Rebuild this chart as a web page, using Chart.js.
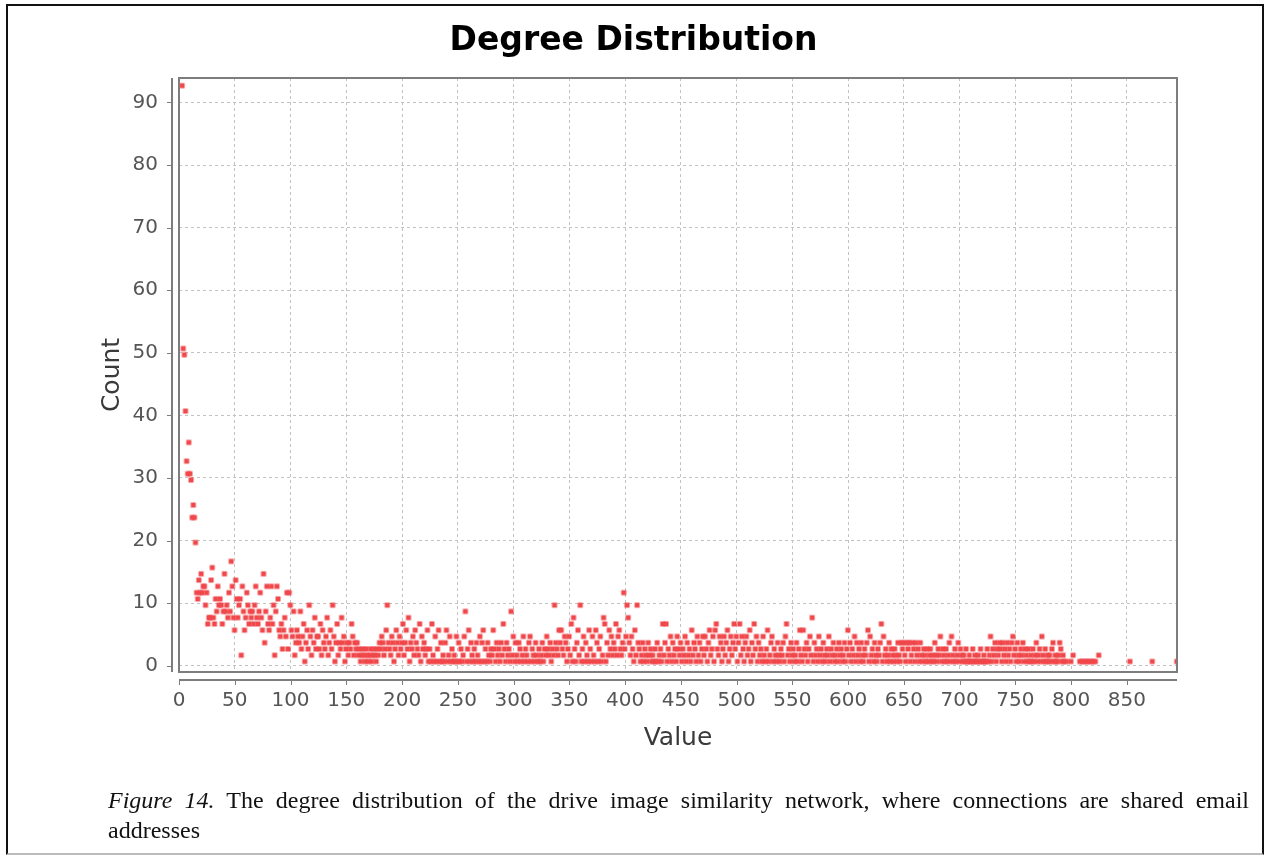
<!DOCTYPE html>
<html>
<head>
<meta charset="utf-8">
<title>Degree Distribution</title>
<script src="https://cdn.jsdelivr.net/npm/chart.js@4.4.1/dist/chart.umd.min.js"></script>
<style>
    html, body { margin: 0; padding: 0; background: #fff; }
    body { width: 1267px; height: 855px; position: relative; overflow: hidden; }
    #frame { position: absolute; left: 6px; top: 4px; width: 1254px; height: 847px; border: 2px solid #111; border-bottom-color: #bbb; }
    #chartDegree { position: absolute; left: 0; top: 0; }
    .caption { position: absolute; left: 108px; width: 1141px; font: 24px "Liberation Serif", "DejaVu Serif", serif; line-height: 30px; color: #111; white-space: nowrap; }
    #cap1 { top: 785px; text-align: justify; text-align-last: justify; }
    #cap2 { top: 815px; }
</style>
</head>
<body>
<div id="frame"></div>
<canvas id="chartDegree" width="1267" height="855"></canvas>
<div class="caption" id="cap1"><i>Figure 14.</i> The degree distribution of the drive image similarity network, where connections are shared email</div>
<div class="caption" id="cap2">addresses</div>
<script>
// count of nodes for each degree, starting at degree 1 (null = no node with that degree)
const firstDegree = 1;
const counts = [
    93, 51, 50, 41, 33, 31, 36, 31, 30, 24,
    26, 24, 20, 12, 11, 14, 12, 15, 12, 13,
    13, 10, 12, 7, 8, 8, 14, 16, 8, 7,
    11, 9, 13, 10, 11, 10, 7, 9, 15, 9,
    10, 8, 12, 9, 17, 13, 8, 6, 14, 11,
    8, 10, 11, 2, 13, 9, 6, 8, 12, 10,
    7, 9, 8, 9, 7, 10, 13, 8, 7, 9,
    12, 8, 6, 15, 4, 9, 13, 7, 6, 8,
    13, 7, 10, 2, 9, 13, 11, 6, 5, 7,
    3, 6, 8, 5, 12, 3, 12, 10, 6, 5,
    9, 2, 4, 6, 5, 4, 9, 3, 5, 7,
    1, 4, 6, 3, 10, 5, 2, 6, 4, 8,
    3, 5, 5, 3, 7, 2, 6, 4, 3, 5,
    8, 2, 4, 6, 3, 10, 5, 1, 4, 7,
    2, 4, 3, 8, 4, 5, 1, 3, 4, 2,
    4, 3, 7, 5, 2, 4, 3, 4, 2, 3,
    1, 2, 3, 2, 1, 3, 2, 1, 2, 3,
    1, 2, 3, 2, 1, 3, 2, 4, 3, 5,
    4, 2, 3, 6, 10, 4, 3, 2, 5, 4,
    1, 3, 6, 4, 2, 5, 3, 4, 7, 2,
    4, 6, 3, 8, 1, 4, 3, 5, 2, 6,
    4, 3, 2, 7, 1, 5, 3, 4, 2, 3,
    6, 1, 3, 1, 7, 2, 1, 5, 1, 3,
    6, 1, 4, 1, 2, 1, 4, 6, 1, 2,
    5, 1, 3, 1, 2, 1, 5, 1, 4, 1,
    3, 1, 2, 5, 9, 1, 3, 6, 1, 4,
    2, 1, 3, 1, 4, 2, 1, 5, 1, 4,
    6, 1, 3, 1, 4, 2, 1, 3, 2, 6,
    3, 1, 4, 2, 3, 1, 4, 2, 7, 3,
    1, 4, 2, 3, 1, 9, 2, 5, 1, 4,
    2, 1, 4, 3, 1, 2, 5, 1, 3, 2,
    1, 4, 5, 1, 3, 2, 1, 4, 2, 1,
    3, 1, 2, 4, 1, 3, 2, 5, 3, 2,
    4, 1, 3, 2, 10, 4, 3, 2, 6, 4,
    6, 3, 2, 5, 4, 1, 3, 5, 2, 7,
    1, 8, 3, 1, 4, 6, 2, 10, 1, 3,
    5, 1, 4, 2, 1, 6, 3, 1, 5, 2,
    1, 6, 4, 1, 3, 5, 1, 2, 8, 7,
    1, 4, 2, 6, 3, 5, 2, 4, 3, 7,
    2, 5, 6, 3, 2, 4, 12, 3, 5, 10,
    8, 4, 2, 5, 3, 1, 6, 2, 10, 4,
    3, 1, 2, 4, 1, 3, 2, 1, 4, 2,
    3, 1, 2, 1, 3, 1, 4, 1, 2, 3,
    1, 7, 2, 4, 7, 1, 3, 2, 5, 1,
    4, 2, 3, 1, 5, 3, 2, 4, 1, 3,
    2, 5, 1, 4, 2, 3, 1, 6, 2, 4,
    3, 1, 5, 2, 4, 1, 3, 5, 2, 5,
    3, 1, 4, 6, 2, 3, 5, 1, 6, 7,
    3, 2, 5, 4, 1, 3, 5, 2, 4, 6,
    1, 3, 5, 2, 4, 7, 3, 5, 1, 4,
    7, 2, 5, 3, 1, 4, 5, 2, 3, 6,
    1, 4, 2, 7, 3, 5, 1, 4, 2, 3,
    1, 5, 2, 1, 3, 6, 1, 2, 4, 5,
    1, 3, 2, 1, 4, 2, 1, 3, 2, 4,
    1, 5, 7, 2, 3, 1, 4, 2, 3, 1,
    2, 4, 1, 3, 6, 2, 1, 6, 3, 2,
    4, 1, 3, 5, 2, 8, 1, 4, 2, 3,
    1, 5, 2, 3, 1, 4, 2, 1, 3, 2,
    5, 1, 3, 2, 4, 1, 2, 3, 1, 4,
    2, 3, 1, 2, 4, 1, 3, 6, 2, 4,
    1, 3, 2, 5, 1, 4, 2, 3, 1, 4,
    2, 1, 3, 2, 4, 6, 1, 5, 2, 3,
    1, 4, 2, 1, 3, 2, 4, 7, 1, 5,
    2, 3, 1, 2, 4, 1, 3, 2, 1, 3,
    2, 1, 4, 2, 1, 4, 3, 4, 2, 1,
    4, 3, 4, 1, 2, 4, 3, 1, 4, 2,
    3, 1, 4, 2, 1, 3, 2, 1, 3, 1,
    2, 3, 1, 2, 1, 4, 2, 1, 3, 2,
    5, 1, 3, 2, 1, 3, 1, 2, 4, 1,
    5, 2, 1, 3, 1, 2, 4, 1, 3, 2,
    1, 2, 1, 3, 1, 1, 2, 1, 1, 3,
    1, 2, 1, 1, 2, 1, 3, 1, 1, 2,
    1, 1, 3, 1, 2, 5, 1, 3, 2, 4,
    1, 3, 2, 4, 3, 1, 4, 2, 3, 1,
    4, 2, 3, 1, 4, 5, 2, 3, 1, 4,
    2, 1, 3, 2, 4, 1, 3, 2, 1, 3,
    1, 2, 1, 3, 1, 2, 4, 1, 2, 3,
    1, 5, 2, 1, 3, 1, 2, 1, 2, 1,
    3, 4, 1, 2, 1, 1, 2, 4, 3, 1,
    2, 1, null, 1, null, null, null, 1, null, 2,
    null, null, null, null, null, 1, null, 1, null, 1,
    null, 1, null, 1, null, 1, null, 1, null, 1,
    null, null, 2
];
// the few high degree nodes far out on the right
const isolatedDegrees = [851, 871, 893];
const isolatedCounts = [1, 1, 1];

const xTickValues = [0, 50, 100, 150, 200, 250, 300, 350, 400, 450, 500, 550, 600, 650, 700, 750, 800, 850];
const yTickValues = [0, 10, 20, 30, 40, 50, 60, 70, 80, 90];

let puntos = [];
counts.forEach(function (c, i) {
    if (c !== null) puntos.push({ x: firstDegree + i, y: c });
});
isolatedDegrees.forEach(function (d, i) {
    puntos.push({ x: d, y: isolatedCounts[i] });
});

// small square marker, anchored at its top-left corner like the original renderer
function marcaCuadrada(color) {
    let c = document.createElement('canvas');
    c.width = 12;
    c.height = 12;
    let g = c.getContext('2d');
    g.fillStyle = color;
    g.fillRect(5.5, 5.5, 5, 5);
    return c;
}

const grisEje = '#7d7d7d';

const marcoEjes = {
    id: 'marcoEjes',
    afterDatasetsDraw(chart) {
        const { ctx, chartArea: a, scales } = chart;
        ctx.save();
        ctx.strokeStyle = grisEje;
        ctx.lineWidth = 2;
        ctx.strokeRect(a.left, a.top, a.right - a.left, a.bottom - a.top);
        let ax = a.left - 7;
        let ay = a.bottom + 8;
        ctx.beginPath();
        ctx.moveTo(ax, a.top);
        ctx.lineTo(ax, a.bottom);
        ctx.moveTo(a.left, ay);
        ctx.lineTo(a.right, ay);
        ctx.stroke();
        ctx.lineWidth = 1;
        ctx.beginPath();
        scales.y.ticks.forEach(function (t) {
            let p = Math.round(scales.y.getPixelForValue(t.value)) + 0.5;
            ctx.moveTo(ax - 5, p);
            ctx.lineTo(ax, p);
        });
        scales.x.ticks.forEach(function (t) {
            let p = Math.round(scales.x.getPixelForValue(t.value)) + 0.5;
            ctx.moveTo(p, ay);
            ctx.lineTo(p, ay + 5);
        });
        ctx.stroke();
        ctx.restore();
    }
};

new Chart(document.getElementById('chartDegree').getContext('2d'), {
    type: 'scatter',
    data: {
        datasets: [{
            label: 'Count',
            data: puntos,
            pointStyle: marcaCuadrada('#f0474b'),
            pointRadius: 3,
            clip: 0
        }]
    },
    options: {
        responsive: false,
        animation: false,
        layout: { padding: 0 },
        plugins: {
            legend: { display: false },
            tooltip: { enabled: false },
            title: {
                display: true,
                text: 'Degree Distribution',
                color: '#000',
                font: { family: 'DejaVu Sans', size: 33, weight: 'bold' },
                padding: { top: 22, bottom: 16.4 }
            }
        },
        scales: {
            x: {
                type: 'linear',
                min: 0,
                max: 895,
                afterBuildTicks: function (s) { s.ticks = xTickValues.map(v => ({ value: v })); },
                afterFit: function (s) { s.height = 183; },
                grid: { color: '#c2c2c2', lineWidth: 1, drawTicks: false },
                border: { display: false, dash: [3, 3] },
                ticks: {
                    autoSkip: false,
                    maxRotation: 0,
                    padding: 17,
                    color: '#555',
                    font: { family: 'DejaVu Sans', size: 20 }
                },
                title: {
                    display: true,
                    text: 'Value',
                    color: '#3a3a3a',
                    font: { family: 'DejaVu Sans', size: 25 },
                    padding: { top: 0, bottom: 102 }
                }
            },
            y: {
                type: 'linear',
                min: -1,
                max: 93.9,
                afterBuildTicks: function (s) { s.ticks = yTickValues.map(v => ({ value: v })); },
                afterFit: function (s) { s.width = 179; },
                grid: { color: '#c2c2c2', lineWidth: 1, drawTicks: false },
                border: { display: false, dash: [3, 3] },
                ticks: {
                    padding: 21,
                    color: '#555',
                    font: { family: 'DejaVu Sans', size: 20 }
                },
                title: {
                    display: true,
                    text: 'Count',
                    color: '#3a3a3a',
                    font: { family: 'DejaVu Sans', size: 25 },
                    padding: { top: 97, bottom: 0 }
                }
            },
            // empty margin on the right so the title stays centred on the whole figure
            margenDerecho: {
                type: 'linear',
                position: 'right',
                afterFit: function (s) { s.width = 90; },
                grid: { display: false },
                border: { display: false },
                ticks: { display: false }
            }
        }
    },
    plugins: [marcoEjes]
});
</script>
</body>
</html>
